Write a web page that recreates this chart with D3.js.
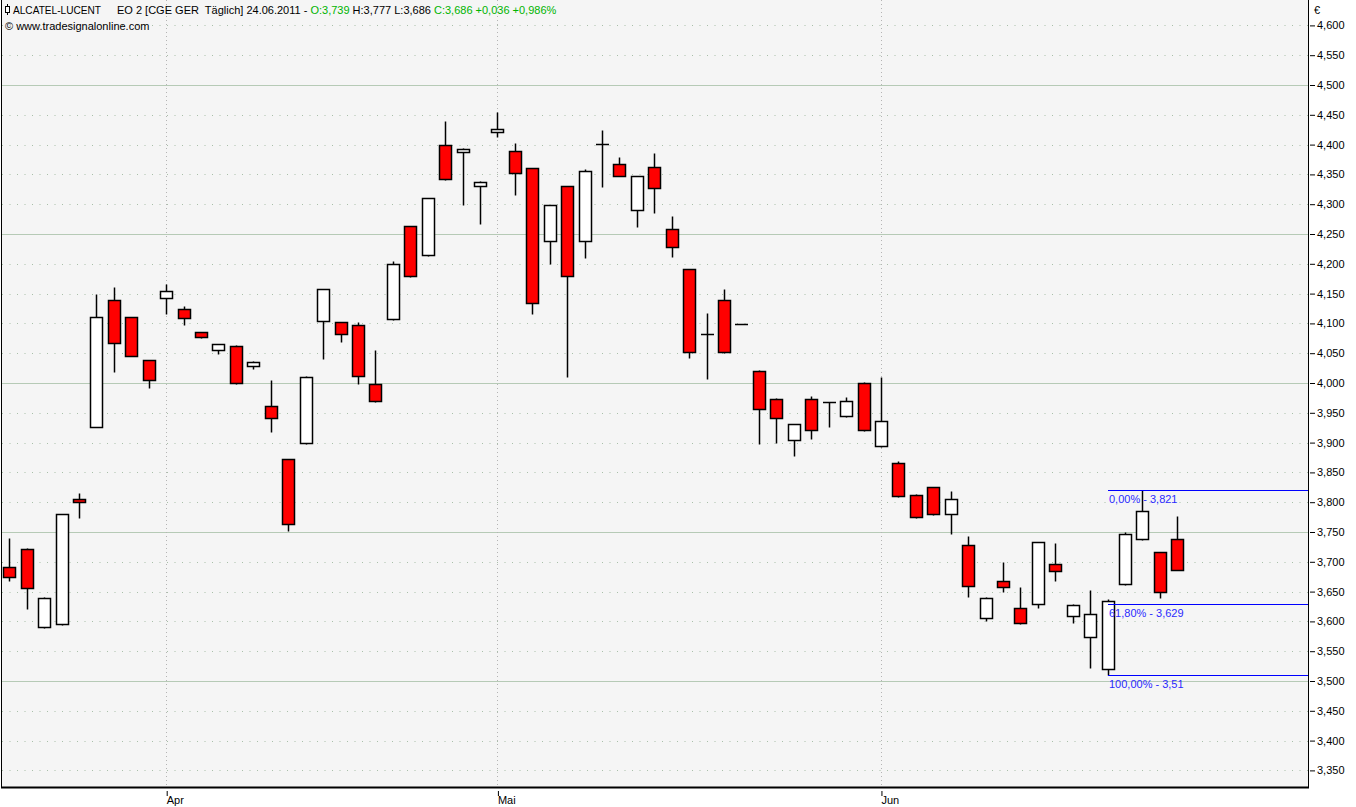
<!DOCTYPE html>
<html>
<head>
<meta charset="utf-8">
<script src="https://cdn.jsdelivr.net/npm/d3@7"></script>
<style>
	body { margin: 0; background: #fff; }
	svg { display: block; font-family: "Liberation Sans", Arial, sans-serif; font-size: 11px; }
	.pre { white-space: pre; }
</style>
</head>
<body>
<svg id="chart" width="1356" height="807"></svg>
<script>
// trading days, Xetra, 21.03.2011 - 24.06.2011
const dates = [
	"2011-03-21", "2011-03-22", "2011-03-23", "2011-03-24", "2011-03-25", "2011-03-28", "2011-03-29", "2011-03-30", "2011-03-31",
	"2011-04-01", "2011-04-04", "2011-04-05", "2011-04-06", "2011-04-07", "2011-04-08", "2011-04-11", "2011-04-12", "2011-04-13",
	"2011-04-14", "2011-04-15", "2011-04-18", "2011-04-19", "2011-04-20", "2011-04-21", "2011-04-26", "2011-04-27", "2011-04-28",
	"2011-04-29", "2011-05-02", "2011-05-03", "2011-05-04", "2011-05-05", "2011-05-06", "2011-05-09", "2011-05-10", "2011-05-11",
	"2011-05-12", "2011-05-13", "2011-05-16", "2011-05-17", "2011-05-18", "2011-05-19", "2011-05-20", "2011-05-23", "2011-05-24",
	"2011-05-25", "2011-05-26", "2011-05-27", "2011-05-30", "2011-05-31", "2011-06-01", "2011-06-02", "2011-06-03", "2011-06-06",
	"2011-06-07", "2011-06-08", "2011-06-09", "2011-06-10", "2011-06-13", "2011-06-14", "2011-06-15", "2011-06-16", "2011-06-17",
	"2011-06-20", "2011-06-21", "2011-06-22", "2011-06-23", "2011-06-24"
];

const open = [
	3.692, 3.721, 3.590, 3.595, 3.806, 3.927, 4.139, 4.110, 4.038,
	4.142, 4.125, 4.085, 4.055, 4.062, 4.028, 3.961, 3.872, 3.899,
	4.104, 4.102, 4.098, 3.998, 4.108, 4.263, 4.214, 4.399, 4.387,
	4.330, 4.421, 4.390, 4.360, 4.238, 4.330, 4.238, 4.401, 4.367,
	4.290, 4.362, 4.258, 4.191, 4.083, 4.140, 4.099, 4.020, 3.973,
	3.904, 3.973, 3.968, 3.944, 4.000, 3.894, 3.865, 3.812, 3.825,
	3.780, 3.729, 3.605, 3.667, 3.622, 3.630, 3.696, 3.609, 3.573,
	3.520, 3.662, 3.738, 3.716, 3.739
];
const high = [
	3.740, 3.723, 3.641, 3.781, 3.815, 4.149, 4.161, 4.111, 4.039,
	4.166, 4.129, 4.086, 4.066, 4.063, 4.037, 4.005, 3.873, 4.011,
	4.158, 4.103, 4.102, 4.055, 4.204, 4.264, 4.311, 4.440, 4.394,
	4.339, 4.454, 4.403, 4.361, 4.299, 4.331, 4.359, 4.424, 4.379,
	4.348, 4.386, 4.281, 4.192, 4.117, 4.157, 4.099, 4.021, 3.974,
	3.932, 3.979, 3.968, 3.977, 4.001, 4.010, 3.869, 3.813, 3.826,
	3.818, 3.743, 3.641, 3.699, 3.657, 3.734, 3.731, 3.629, 3.652,
	3.637, 3.750, 3.821, 3.717, 3.777
];
const low = [
	3.667, 3.620, 3.589, 3.594, 3.774, 3.926, 4.019, 4.045, 3.991,
	4.116, 4.098, 4.076, 4.048, 3.999, 4.024, 3.917, 3.751, 3.898,
	4.041, 4.068, 3.999, 3.968, 4.106, 4.178, 4.213, 4.341, 4.298,
	4.267, 4.413, 4.315, 4.115, 4.199, 4.010, 4.209, 4.329, 4.347,
	4.261, 4.286, 4.211, 4.042, 4.007, 4.051, 4.099, 3.897, 3.899,
	3.877, 3.906, 3.926, 3.943, 3.920, 3.893, 3.809, 3.774, 3.779,
	3.746, 3.641, 3.600, 3.650, 3.596, 3.622, 3.667, 3.598, 3.521,
	3.510, 3.661, 3.737, 3.640, 3.686
];
const close = [
	3.674, 3.656, 3.640, 3.780, 3.801, 4.110, 4.067, 4.046, 4.005,
	4.154, 4.109, 4.077, 4.065, 4.000, 4.036, 3.941, 3.763, 4.010,
	4.157, 4.083, 4.011, 3.969, 4.199, 4.179, 4.310, 4.342, 4.393,
	4.338, 4.427, 4.353, 4.134, 4.298, 4.179, 4.355, 4.399, 4.348,
	4.347, 4.327, 4.229, 4.052, 4.080, 4.052, 4.099, 3.956, 3.941,
	3.931, 3.921, 3.968, 3.969, 3.921, 3.936, 3.810, 3.775, 3.780,
	3.805, 3.659, 3.640, 3.657, 3.597, 3.733, 3.684, 3.627, 3.612,
	3.634, 3.746, 3.785, 3.650, 3.686
];

const yTicks = [
	3.35, 3.40, 3.45, 3.50, 3.55, 3.60, 3.65, 3.70, 3.75, 3.80, 3.85, 3.90, 3.95,
	4.00, 4.05, 4.10, 4.15, 4.20, 4.25, 4.30, 4.35, 4.40, 4.45, 4.50, 4.55, 4.60
];
const yMajor = [3.50, 3.75, 4.00, 4.25, 4.50];
const monthTicks = ["2011-04-01", "2011-05-02", "2011-06-01"];
const monthLabels = ["Apr", "Mai", "Jun"];

const fibStart = "2011-06-20";
const fibLevels = ["0,00%", "61,80%", "100,00%"];
const fibValues = [3.821, 3.629, 3.51];

const comma = f => s => f(s).replace(".", ",");
const fmtTick = comma(d3.format(".3f"));
const fmtFib = comma(d3.format(".4~r"));

class CandleChart {

	constructor(svg) {
		this.svg = svg;
		this.frame = { left: 2, right: 1308, top: 0, bottom: 787 };
		this.x = d3.scalePoint().domain(dates).range([9.3, 1177.3]);
		this.y = d3.scaleLinear().domain([3.5, 4.5]).range([681, 85]);
		this.candles = dates.map((d, i) => ({
			date: d, o: open[i], h: high[i], l: low[i], c: close[i]
		}));
	}

	grid() {
		const f = this.frame;
		const g = this.svg.append("g");
		const isMajor = d => yMajor.some(m => Math.abs(m - d) < 1e-6);

		g.append("rect")
			.attr("x", f.left).attr("y", f.top)
			.attr("width", f.right - f.left).attr("height", f.bottom - f.top)
			.attr("fill", "#f5f5f5");

		g.selectAll("line.h")
			.data(yTicks)
			.enter()
			.append("line")
			.attr("x1", f.left).attr("x2", f.right)
			.attr("y1", d => Math.round(this.y(d)) + 0.5)
			.attr("y2", d => Math.round(this.y(d)) + 0.5)
			.attr("stroke", d => isMajor(d) ? "#b6cab6" : "#a9bfa9")
			.attr("stroke-dasharray", d => isMajor(d) ? null : "1,6.5");

		g.selectAll("line.v")
			.data(monthTicks)
			.enter()
			.append("line")
			.attr("x1", d => Math.round(this.x(d)) + 0.5)
			.attr("x2", d => Math.round(this.x(d)) + 0.5)
			.attr("y1", f.top).attr("y2", f.bottom)
			.attr("stroke", "#b4b4b4")
			.attr("stroke-dasharray", "1,3");
	}

	axes() {
		const f = this.frame;

		const right = this.svg.append("g")
			.attr("transform", `translate(${f.right},0)`);
		const yAxis = d3.axisRight(this.y)
			.tickValues(yTicks)
			.tickSize(5)
			.tickPadding(4)
			.tickFormat(fmtTick);
		right.call(yAxis);
		right.select(".domain").remove();
		right.selectAll(".tick line").attr("stroke", "#000").attr("transform", "translate(2,0)");
		right.selectAll(".tick text")
			.attr("fill", "#000")
			.style("font-family", "Liberation Sans, Arial, sans-serif")
			.style("font-size", "11px");

		this.svg.append("text")
			.attr("x", f.right + 6).attr("y", 14)
			.text("€");

		const bottom = this.svg.append("g")
			.attr("transform", `translate(0,${f.bottom})`);
		const xAxis = d3.axisBottom(this.x)
			.tickValues(monthTicks)
			.tickSize(0)
			.tickFormat((d, i) => monthLabels[i]);
		bottom.call(xAxis);
		bottom.select(".domain").remove();
		bottom.selectAll(".tick line").remove();
		bottom.selectAll(".tick").append("line")
			.attr("x1", 0.5).attr("x2", 0.5)
			.attr("y1", 4).attr("y2", 9)
			.attr("stroke", "#000");
		bottom.selectAll(".tick text")
			.attr("text-anchor", "start")
			.attr("x", 0).attr("y", 17).attr("dy", null)
			.attr("fill", "#000")
			.style("font-family", "Liberation Sans, Arial, sans-serif")
			.style("font-size", "11px");

		const frame = this.svg.append("g").attr("stroke", "#000");
		frame.append("line")
			.attr("x1", f.left - 0.5).attr("x2", f.left - 0.5)
			.attr("y1", f.top).attr("y2", f.bottom);
		frame.append("line")
			.attr("x1", f.right + 0.5).attr("x2", f.right + 0.5)
			.attr("y1", f.top).attr("y2", f.bottom + 1);
		frame.append("line")
			.attr("x1", f.left - 1).attr("x2", f.right + 1)
			.attr("y1", f.bottom + 0.5).attr("y2", f.bottom + 0.5)
			.attr("stroke-width", 2);
	}

	render() {
		const w = 12;
		const px = v => Math.round(v) + 0.5;
		const g = this.svg.append("g");

		const candle = g.selectAll("g.candle")
			.data(this.candles)
			.enter()
			.append("g")
			.attr("transform", d => `translate(${Math.round(this.x(d.date))},0)`);

		candle.append("line")
			.attr("x1", 0.5).attr("x2", 0.5)
			.attr("y1", d => px(this.y(d.h)))
			.attr("y2", d => px(this.y(d.l)))
			.attr("stroke", "#000")
			.attr("stroke-width", 1.5);

		candle.each((d, i, nodes) => {
			const sel = d3.select(nodes[i]);
			const top = px(this.y(Math.max(d.o, d.c)));
			const bot = px(this.y(Math.min(d.o, d.c)));
			if (bot - top < 2) {
				// doji: open and close on the same pixel row
				sel.append("line")
					.attr("x1", -w / 2).attr("x2", w / 2 + 1)
					.attr("y1", top).attr("y2", top)
					.attr("stroke", "#000")
					.attr("stroke-width", 1.5);
			} else {
				sel.append("rect")
					.attr("x", -w / 2 + 0.5).attr("width", w)
					.attr("y", top).attr("height", bot - top)
					.attr("fill", d.c < d.o ? "#ff0000" : "#ffffff")
					.attr("stroke", "#000")
					.attr("stroke-width", 1.5);
			}
		});
	}

	fibonacci() {
		const f = this.frame;
		const x0 = Math.round(this.x(fibStart));
		const g = this.svg.append("g");

		g.selectAll("line")
			.data(fibValues)
			.enter()
			.append("line")
			.attr("x1", x0).attr("x2", f.right)
			.attr("y1", d => Math.round(this.y(d)) + 0.5)
			.attr("y2", d => Math.round(this.y(d)) + 0.5)
			.attr("stroke", "#0000ff");

		g.selectAll("text")
			.data(fibValues)
			.enter()
			.append("text")
			.attr("x", x0 + 1)
			.attr("y", d => Math.round(this.y(d)) + 13)
			.attr("fill", "#2a2aff")
			.text((d, i) => `${fibLevels[i]} - ${fmtFib(d)}`);
	}

	header() {
		const g = this.svg.append("g");
		g.append("line")
			.attr("x1", 7.5).attr("x2", 7.5).attr("y1", 4).attr("y2", 15)
			.attr("stroke", "#000");
		g.append("rect")
			.attr("x", 5.5).attr("y", 6.5).attr("width", 4).attr("height", 6)
			.attr("fill", "#fff").attr("stroke", "#000");

		g.append("text").attr("x", 13).attr("y", 14)
			.attr("textLength", 88).attr("lengthAdjust", "spacingAndGlyphs")
			.text("ALCATEL-LUCENT");

		const t = g.append("text").attr("class", "pre").attr("x", 117).attr("y", 14);
		t.append("tspan").text("EO 2 [CGE GER  Täglich] 24.06.2011 - ");
		t.append("tspan").attr("fill", "#00b400").text("O:3,739");
		t.append("tspan").text(" H:3,777 L:3,686 ");
		t.append("tspan").attr("fill", "#00b400").text("C:3,686 +0,036 +0,986%");

		g.append("text").attr("x", 5).attr("y", 30).text("© www.tradesignalonline.com");
	}
}

const chart = new CandleChart(d3.select("#chart"));
chart.grid();
chart.render();
chart.fibonacci();
chart.axes();
chart.header();
</script>
</body>
</html>
